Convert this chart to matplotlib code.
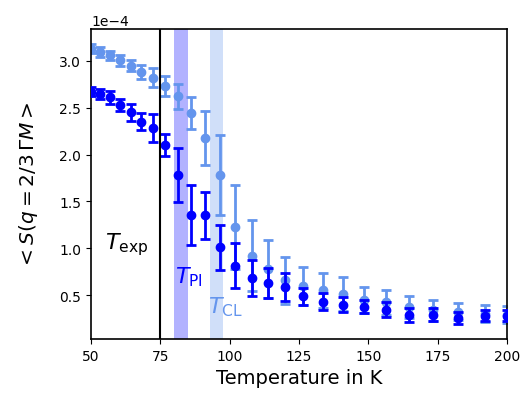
import matplotlib
matplotlib.use("Agg")
import matplotlib.pyplot as plt
import numpy as np

# Temperatures (K)
temperature = [50, 53.2, 56.9, 60.6, 64.4, 68.2, 72.5, 76.8, 81.5, 86.0, 91.1, 96.5,
               101.9, 108.0, 113.9, 120.0, 126.6, 133.8, 141.0, 148.5, 156.4, 164.7,
               173.4, 182.5, 192.1, 200.0]

# Light series (cornflowerblue), units of 1e-4
s_light = [3.13, 3.095, 3.06, 3.005, 2.95, 2.88, 2.82, 2.73, 2.62, 2.44, 2.18, 1.78,
           1.23, 0.92, 0.78, 0.655, 0.595, 0.55, 0.51, 0.45, 0.42, 0.37,
           0.335, 0.32, 0.30, 0.29]
err_light = [0.05, 0.05, 0.05, 0.057, 0.06, 0.075, 0.10, 0.107, 0.13, 0.17, 0.29, 0.43,
             0.45, 0.38, 0.31, 0.25, 0.20, 0.19, 0.18, 0.14, 0.135, 0.12,
             0.11, 0.09, 0.09, 0.09]

# Dark series (blue), units of 1e-4
s_dark = [2.67, 2.65, 2.61, 2.53, 2.45, 2.35, 2.28, 2.10, 1.78, 1.35, 1.35, 1.01,
          0.81, 0.68, 0.63, 0.585, 0.485, 0.43, 0.395, 0.375, 0.34, 0.29,
          0.29, 0.255, 0.28, 0.28]
err_dark = [0.05, 0.053, 0.07, 0.065, 0.09, 0.093, 0.15, 0.12, 0.29, 0.32, 0.25, 0.24,
            0.24, 0.19, 0.16, 0.15, 0.09, 0.09, 0.08, 0.07, 0.08, 0.075,
            0.066, 0.06, 0.06, 0.06]

T_exp = 75
T_PI_band = (79.9, 85.0)
T_CL_band = (92.9, 97.6)

scale = 1e-4

fig = plt.figure(figsize=(5.22, 4.10), dpi=100)
ax = fig.add_axes([0.1743, 0.1707, 0.797, 0.756])

ax.axvspan(*T_PI_band, color='blue', alpha=0.3, lw=0, zorder=0)
ax.axvspan(*T_CL_band, color='cornflowerblue', alpha=0.3, lw=0, zorder=0)

ax.errorbar(temperature, np.array(s_light) * scale, yerr=np.array(err_light) * scale,
            fmt='o', color='cornflowerblue', ms=6, elinewidth=2, capsize=3.5,
            capthick=2, zorder=2)
ax.errorbar(temperature, np.array(s_dark) * scale, yerr=np.array(err_dark) * scale,
            fmt='o', color='blue', ms=6, elinewidth=2, capsize=3.5,
            capthick=2, zorder=3)

ax.axvline(T_exp, color='black', lw=1.5, zorder=4)

ax.text(55, 1.05e-4, r'$T_{\rm exp}$', fontsize=16, color='black', va='center')
ax.text(80.3, 0.70e-4, r'$T_{\rm PI}$', fontsize=16, color='blue', va='center')
ax.text(92.2, 0.38e-4, r'$T_{\rm CL}$', fontsize=16, color='cornflowerblue', va='center')

ax.set_xlim(50, 200)
ax.set_ylim(0.03e-4, 3.34e-4)
ax.set_xticks([50, 75, 100, 125, 150, 175, 200])
ax.set_yticks(np.array([0.5, 1.0, 1.5, 2.0, 2.5, 3.0]) * scale)
ax.ticklabel_format(axis='y', style='sci', scilimits=(0, 0))

ax.set_xlabel('Temperature in K', fontsize=14)
ax.set_ylabel(r'$<S(q=2/3\,\Gamma M>$', fontsize=14.5, labelpad=14)
ax.tick_params(labelsize=10)
ax.yaxis.get_offset_text().set_fontsize(10)
for sp in ax.spines.values():
    sp.set_linewidth(1.2)

fig.savefig('out.png', dpi=100)
